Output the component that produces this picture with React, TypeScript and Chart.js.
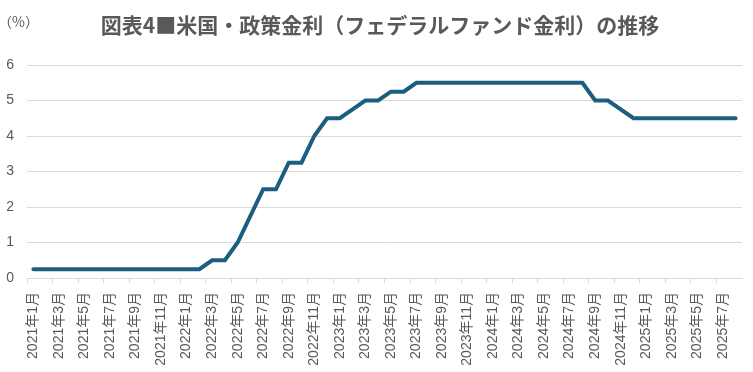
import React, { useEffect, useRef } from "react";
import { Chart, registerables } from "chart.js";

Chart.register(...registerables);

const TITLE = "図表4■米国・政策金利（フェデラルファンド金利）の推移";
const UNIT_LABEL = "（%）";

const months: string[] = (() => {
  const out: string[] = [];
  for (let y = 2021; y <= 2025; y++) {
    for (let m = 1; m <= 12; m++) {
      if (y === 2025 && m > 8) break;
      out.push(`${y}年${m}月`);
    }
  }
  return out;
})();

// 2021年1月〜2025年8月 (monthly)
const rates2021 = [0.25, 0.25, 0.25, 0.25, 0.25, 0.25, 0.25, 0.25, 0.25, 0.25, 0.25, 0.25];
const rates2022 = [0.25, 0.25, 0.5, 0.5, 1.0, 1.75, 2.5, 2.5, 3.25, 3.25, 4.0, 4.5];
const rates2023 = [4.5, 4.75, 5.0, 5.0, 5.25, 5.25, 5.5, 5.5, 5.5, 5.5, 5.5, 5.5];
const rates2024 = [5.5, 5.5, 5.5, 5.5, 5.5, 5.5, 5.5, 5.5, 5.0, 5.0, 4.75, 4.5];
const rates2025 = [4.5, 4.5, 4.5, 4.5, 4.5, 4.5, 4.5, 4.5];

const rates = [...rates2021, ...rates2022, ...rates2023, ...rates2024, ...rates2025];

const yTicks = [0, 1, 2, 3, 4, 5, 6];

const TEXT = "#595959";
const GRID = "#d9d9d9";
const LINE = "#1b5e7f";
const FONT = "'Liberation Sans', Arial, 'Noto Sans CJK JP', sans-serif";

export default function App() {
  const ref = useRef<HTMLCanvasElement | null>(null);

  useEffect(() => {
    document.body.style.margin = "0";
    const canvas = ref.current;
    if (!canvas) return;

    const textPlugin = {
      id: "textPlugin",
      afterDraw(chart: any) {
        const ctx = chart.ctx;
        ctx.save();
        ctx.fillStyle = TEXT;
        ctx.textBaseline = "middle";
        ctx.textAlign = "center";
        ctx.font = "bold 21px 'Noto Sans CJK JP', sans-serif";
        ctx.fillText(TITLE, 380, 25);
        ctx.textAlign = "left";
        ctx.font = "14px 'Noto Sans CJK JP', sans-serif";
        ctx.fillText(UNIT_LABEL, -2, 22);
        ctx.restore();
      },
    };

    const chart = new Chart(canvas, {
      type: "line",
      data: {
        labels: months,
        datasets: [
          {
            data: rates,
            borderColor: LINE,
            borderWidth: 4,
            pointRadius: 0,
            tension: 0,
            fill: false,
            borderCapStyle: "round",
            borderJoinStyle: "miter",
          },
        ],
      },
      options: {
        animation: false,
        responsive: false,
        maintainAspectRatio: false,
        layout: { padding: { top: 65, right: 11, left: 0, bottom: 0 } },
        plugins: {
          legend: { display: false },
          title: { display: false },
          tooltip: { enabled: false },
        },
        scales: {
          x: {
            type: "category",
            offset: true,
            grid: {
              offset: true,
              drawOnChartArea: false,
              drawTicks: true,
              tickLength: 5,
              color: (c: any) => (c.index % 2 === 0 ? GRID : "rgba(0,0,0,0)"),
            },
            border: { display: true, color: GRID, width: 1 },
            ticks: {
              autoSkip: false,
              minRotation: 90,
              maxRotation: 90,
              padding: 9,
              color: TEXT,
              font: { family: FONT, size: 14 },
              callback: (_v: any, i: number) => (i % 2 === 0 ? months[i] : ""),
            },
            afterFit: (s: any) => {
              s.height = 94;
              s.paddingLeft = 0;
              s.paddingRight = 0;
            },
          },
          y: {
            min: 0,
            max: 6,
            afterBuildTicks: (s: any) => {
              s.ticks = yTicks.map((v) => ({ value: v }));
            },
            grid: { color: GRID, drawTicks: false, lineWidth: 1 },
            border: { display: false },
            ticks: {
              padding: 13,
              color: TEXT,
              font: { family: FONT, size: 14 },
            },
            afterFit: (s: any) => {
              s.width = 27;
              s.paddingTop = 0;
              s.paddingBottom = 0;
            },
          },
        },
      },
      plugins: [textPlugin],
    });

    return () => chart.destroy();
  }, []);

  return (
    <div style={{ width: 753, height: 372, position: "relative" }}>
      <canvas ref={ref} width={753} height={372} style={{ display: "block", width: 753, height: 372 }} />
    </div>
  );
}
